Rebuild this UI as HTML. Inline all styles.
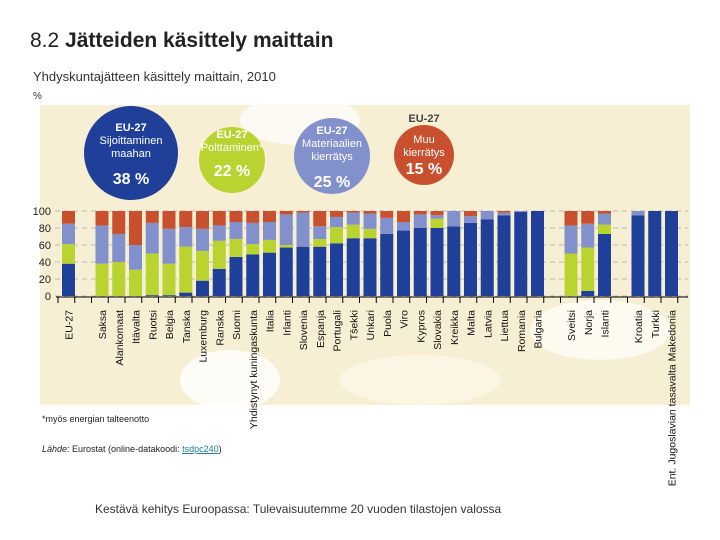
<!DOCTYPE html>
<html><head><meta charset="utf-8"><style>
body{margin:0;width:720px;height:540px;background:#fff;overflow:hidden;font-family:"Liberation Sans",sans-serif;position:relative}
.t{position:absolute;white-space:nowrap}
</style></head><body>
<div class="t" style="left:30px;top:29px;font-size:21px;color:#222">8.2 <b>Jätteiden käsittely maittain</b></div>
<div class="t" style="left:33px;top:69px;font-size:13px;color:#333">Yhdyskuntajätteen käsittely maittain, 2010</div>
<div class="t" style="left:33px;top:91px;font-size:10px;color:#333">%</div>
<svg id="c" width="720" height="540" style="position:absolute;left:0;top:0" xmlns="http://www.w3.org/2000/svg">
<g>
<rect x="40" y="105" width="650" height="300" fill="#f6efd4"/>
<ellipse cx="300" cy="120" rx="60" ry="25" fill="#fff" opacity="0.7"/>
<ellipse cx="230" cy="380" rx="50" ry="30" fill="#fff" opacity="0.8"/>
<ellipse cx="600" cy="330" rx="70" ry="30" fill="#fdfaf0"/>
<ellipse cx="420" cy="380" rx="80" ry="25" fill="#fbf6e4"/>
</g>
<g id="circles"></g>
<g id="axis"></g><g id="bars"></g><g id="labels"></g>
</svg>
<div class="t" style="left:42px;top:414px;font-size:9px;color:#222">*myös energian talteenotto</div>
<div class="t" style="left:42px;top:444px;font-size:9px;color:#222"><i>Lähde</i>: Eurostat (online-datakoodi: <span style="color:#1a7fa0;text-decoration:underline">tsdpc240</span>)</div>
<div class="t" style="left:95px;top:502px;font-size:12px;color:#333">Kestävä kehitys Euroopassa: Tulevaisuutemme 20 vuoden tilastojen valossa</div>
<script>
const categories=["EU-27","","Saksa","Alankomaat","Itävalta","Ruotsi","Belgia","Tanska","Luxemburg","Ranska","Suomi","Yhdistynyt kuningaskunta","Italia","Irlanti","Slovenia","Espanja","Portugali","Tšekki","Unkari","Puola","Viro","Kypros","Slovakia","Kreikka","Malta","Latvia","Liettua","Romania","Bulgaria","","Sveitsi","Norja","Islanti","","Kroatia","Turkki","Ent. Jugoslavian tasavalta Makedonia"];
const landfill=[38,null,0,0,0,1,1,4,18,32,46,49,51,57,58,58,62,68,68,73,77,80,80,82,86,90,95,99,100,null,0,6,73,null,95,100,100];
const incineration=[23,null,38,40,31,49,37,54,35,33,21,12,15,3,0,9,19,16,11,0,0,0,11,0,0,0,0,0,0,null,50,51,11,null,0,0,0];
const recycling=[24,null,45,33,29,36,41,23,26,18,20,25,21,36,40,15,12,14,18,19,10,16,4,18,8,10,3,1,0,null,33,28,13,null,5,0,0];
const composting=[15,null,17,27,40,14,21,19,21,17,13,14,13,4,2,18,7,2,3,8,13,4,5,0,6,0,2,0,0,null,17,15,3,null,0,0,0];
const yTicks=[0,20,40,60,80,100];
const colors=["#1f3f99","#b9d431","#8290cc","#c8502e"];
const NS="http://www.w3.org/2000/svg";
const y=v=>296-v*0.85, x0=62, step=16.75, bw=13;
const xc=i=>x0+i*step;
function mk(t,a,p){const e=document.createElementNS(NS,t);for(const k in a)e.setAttribute(k,a[k]);p.appendChild(e);return e;}
const ax=document.getElementById('axis'),bars=document.getElementById('bars'),lab=document.getElementById('labels'),cir=document.getElementById('circles');
yTicks.forEach(v=>{
 const g=mk('line',{x1:55,x2:688,y1:y(v),y2:y(v),stroke:'#bbb','stroke-dasharray':'5,4'},ax);
 
 
 const t=mk('text',{x:51,y:y(v)+4,'text-anchor':'end','font-size':11,fill:'#222','font-family':'Liberation Sans'},ax);t.textContent=v;
 
 
});
const base=mk('line',{x1:56,x2:688,y1:297,y2:297,stroke:'#000'},ax);


for(let i=0;i<=categories.length;i++){const tx=x0-4+i*step;mk('line',{x1:tx,x2:tx,y1:297,y2:303,stroke:'#000'},ax);}
const series=[landfill,incineration,recycling,composting],names=['landfill','incineration','recycling','other-recycling'];
categories.forEach((c,i)=>{
 if(landfill[i]!==null){let acc=0;
  series.forEach((s,k)=>{const v=s[i];if(v>0){const r=mk('rect',{x:xc(i),y:y(acc+v),width:bw,height:v*0.85,fill:colors[k]},bars);
   
   }acc+=v;});}
 if(c){const t=mk('text',{transform:`translate(${xc(i)+bw/2+4},310) rotate(-90)`,'text-anchor':'end','font-size':10.5,fill:'#111','font-family':'Liberation Sans'},lab);t.textContent=c;
  
  }
});
const circ=[[131,153,47,colors[0],['EU-27','Sijoittaminen','maahan'],'38 %'],[232,160,33,colors[1],['EU-27','Polttaminen*'],'22 %'],[332,156,38,colors[2],['EU-27','Materiaalien','kierrätys'],'25 %'],[424,155,30,colors[3],['Muu','kierrätys'],'15 %']];
circ.forEach((c,k)=>{
 const e=mk('circle',{cx:c[0],cy:c[1],r:c[2],fill:c[3]},cir);
 
 
 const sy=k==3?c[1]-12:c[1]-22;
 c[4].forEach((l,j)=>{const t=mk('text',{x:c[0],y:sy+j*13,'text-anchor':'middle','font-size':11,fill:'#fff','font-weight':j==0&&k<3?'bold':'normal','font-family':'Liberation Sans'},cir);t.textContent=l;});
 const p=mk('text',{x:c[0],y:k==1?c[1]+16:c[1]+31-(k==3?12:0),'text-anchor':'middle','font-size':16,fill:'#fff','font-weight':'bold','font-family':'Liberation Sans'},cir);p.textContent=c[5];
 
 
});
const eu=mk('text',{x:424,y:122,'text-anchor':'middle','font-size':11,fill:'#444','font-weight':'bold','font-family':'Liberation Sans'},cir);eu.textContent='EU-27';
</script>
</body></html>
